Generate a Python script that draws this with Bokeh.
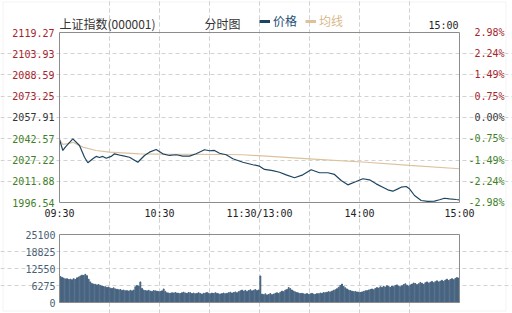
from bokeh.plotting import figure
from bokeh.models import (Range1d, FixedTicker, ColumnDataSource, LabelSet, Label,
                          Legend, LegendItem, Grid, BoxAnnotation)
from bokeh.core.properties import value
from bokeh.embed import file_html
from bokeh.resources import INLINE

# ---------------- data ----------------
title_text = "上证指数(000001)"
chart_kind = "分时图"
series_names = ["价格", "均线"]
end_time = "15:00"

prev_close = 2057.91
price_ticks = [2119.27, 2103.93, 2088.59, 2073.25, 2057.91, 2042.57, 2027.22, 2011.88, 1996.54]
pct_labels = ["2.98%", "2.24%", "1.49%", "0.75%", "0.00%", "-0.75%", "-1.49%", "-2.24%", "-2.98%"]

time_ticks = [0, 60, 120, 180, 240]
time_labels = ["09:30", "10:30", "11:30/13:00", "14:00", "15:00"]
grid_minutes = [30, 60, 90, 120, 150, 180, 210]

vol_ticks = [0, 6275, 12550, 18825, 25100]

price_min = [0, 2, 4, 8, 12, 15, 17, 20, 22, 24, 26, 28, 31, 33, 37, 42, 47, 51, 54, 58,
             62, 66, 70, 74, 78, 82, 87, 90, 93, 96, 100, 104, 110, 116, 120, 123, 128, 132, 136, 141,
             146, 151, 156, 161, 165, 169, 173, 178, 182, 186, 190, 194, 197, 200, 203, 205, 208, 210, 213, 217,
             221, 225, 228, 231, 234, 238, 240]
price_val = [2042.0, 2034.1, 2037.2, 2042.5, 2037.7, 2029.2, 2025.2, 2028.1, 2029.8, 2029.0,
             2029.8, 2028.5, 2029.8, 2031.7, 2030.5, 2029.2, 2025.6, 2030.5, 2032.9, 2034.8,
             2031.7, 2030.5, 2031.0, 2030.0, 2030.0, 2031.7, 2034.6, 2033.9, 2034.1, 2032.1,
             2031.0, 2028.1, 2025.6, 2023.8, 2022.8, 2020.4, 2019.6, 2018.4, 2016.5, 2014.4,
             2016.5, 2020.2, 2018.0, 2018.0, 2016.8, 2012.4, 2009.3, 2011.7, 2013.7, 2012.9,
             2010.0, 2007.6, 2005.7, 2004.7, 2006.4, 2007.6, 2008.1, 2006.4, 2001.6, 1998.0,
             1997.3, 1997.5, 1998.5, 1999.6, 1999.2, 1998.7, 1998.5]

avg_min = [0, 2, 5, 8, 14, 22, 30, 48, 62, 98, 110, 124, 150, 184, 210, 240]
avg_val = [2042.0, 2038.5, 2039.0, 2040.0, 2036.5, 2034.1, 2032.9, 2031.7, 2031.5, 2031.2,
           2031.0, 2030.0, 2028.1, 2025.6, 2023.3, 2020.9]

volumes = [
    9600, 9300, 9000, 8700, 8800, 8500, 8600, 8400, 8800, 8500,
    9100, 9400, 9800, 10100, 10000, 10400, 9900, 8600, 7600, 7000,
    6800, 6700, 6500, 6600, 6300, 6100, 5900, 5800, 5600, 5700,
    5300, 5200, 5400, 5000, 4900, 4700, 4800, 4500, 4600, 4300,
    4400, 4200, 4500, 4300, 4600, 5800, 6300, 6100, 7600, 5200,
    4600, 4400, 4300, 4500, 4200, 4100, 4400, 4300, 4200, 4000,
    4100, 4300, 5000, 4100, 3600, 3500, 3400, 3600, 3500, 3700,
    3500, 3400, 3300, 3600, 3800, 3500, 3400, 3700, 3600, 3300,
    3500, 3200, 3400, 3600, 3300, 3100, 3400, 3500, 3700, 3400,
    3200, 3500, 3300, 3600, 3400, 3200, 3100, 3300, 3500, 3200,
    3400, 3600, 3800, 3500, 3700, 3900, 3600, 4000, 4300, 4600,
    4200, 4500, 4100, 4400, 4700, 4300, 4500, 4800, 4400, 4600,
    9800, 3100, 2900, 3200, 2800, 3000, 3300, 2900, 3100, 3400,
    3600, 3300, 3800, 4200, 4000, 4600, 4800, 5500, 5100, 4600,
    4200, 3900, 3700, 3500, 3300, 3400, 3200, 3100, 3300, 3000,
    3200, 3400, 3100, 3000, 3300, 3200, 3500, 3400, 3700, 3600,
    3800, 4000, 3900, 4200, 4500, 4700, 5100, 5600, 6300, 6800,
    5900, 5400, 5000, 4600, 4400, 4200, 4000, 4100, 3900, 3800,
    3700, 3900, 4100, 4300, 4400, 4600, 4800, 5000, 4700, 5200,
    5500, 5300, 5800, 5600, 6000, 5700, 6200, 5900, 5600, 6100,
    5800, 6300, 6500, 6100, 5800, 6200, 6600, 6900, 6400, 6000,
    6500, 6800, 7200, 7000, 6600, 6900, 7400, 7100, 6700, 7300,
    7600, 7200, 7500, 7800, 7300, 7700, 8000, 7600, 7900, 8200,
    7800, 8300, 8600, 8100, 8500, 8800, 8400, 8900, 9200, 9000,
]

# ---------------- style / layout (pixels) ----------------
W, H = 512, 313
PX_L, PX_R = 59, 459          # plot frames, left / right edges
PY_T, PY_B = 32, 202          # price frame, top / bottom
VY_T, VY_B = 234, 302         # volume frame, top / bottom

PRICE_C = "#1d4561"
AVG_C = "#dcc29c"
RED = "#a8232a"
GREEN = "#3f7f27"
NEUTRAL = "#333333"
GRID_C = "#d2d2d2"
FRAME_C = "#8c8c8c"
BAR_C = "#46627f"
NUM_FONT = "DejaVu Sans Mono"
CJK_FONT = "Noto Sans CJK SC"

x_lo, x_hi = 0, 240
y_lo, y_hi = min(price_ticks), max(price_ticks)
v_lo, v_hi = min(vol_ticks), max(vol_ticks)

mpp = (x_hi - x_lo) / (PX_R - PX_L)          # minutes per pixel
ppp = (y_hi - y_lo) / (PY_B - PY_T)          # price per pixel
vpp = (v_hi - v_lo) / (VY_B - VY_T)          # volume per pixel

def xd(px):
    return x_lo + (px - PX_L) * mpp

def yd(py):
    return y_hi - (py - PY_T) * ppp

def vd(py):
    return v_hi - (py - VY_T) * vpp

p = figure(width=W, height=H, output_backend="svg", toolbar_location=None,
           x_range=Range1d(xd(0), xd(W)), y_range=Range1d(yd(H), yd(0)),
           x_axis_location=None, y_axis_location=None,
           min_border=0, min_border_left=0, min_border_right=0,
           min_border_top=0, min_border_bottom=0)
p.extra_y_ranges = {"vol": Range1d(vd(H), vd(0))}
p.outline_line_color = None
p.background_fill_color = "white"
p.border_fill_color = "white"
p.grid.visible = False

# outer light border of the widget
p.add_layout(BoxAnnotation(left=xd(2.5), right=xd(505.5), top=yd(1.5), bottom=yd(310.5),
                           fill_alpha=0, line_color="#d6d6d6", line_width=1))

# grids
dash = "4 3"
p.add_layout(Grid(dimension=0, ticker=FixedTicker(ticks=grid_minutes), bounds=(y_lo, y_hi),
                  grid_line_color=GRID_C, grid_line_dash=dash))
p.add_layout(Grid(dimension=1, ticker=FixedTicker(ticks=price_ticks[1:-1]), bounds=(x_lo, x_hi),
                  grid_line_color=GRID_C, grid_line_dash=dash))
p.add_layout(Grid(dimension=0, ticker=FixedTicker(ticks=grid_minutes), bounds=(v_lo, v_hi),
                  y_range_name="vol", grid_line_color=GRID_C, grid_line_dash=dash))
p.add_layout(Grid(dimension=1, ticker=FixedTicker(ticks=vol_ticks[1:-1]), bounds=(x_lo, x_hi),
                  y_range_name="vol", grid_line_color=GRID_C, grid_line_dash=dash))

# series
p.line(avg_min, avg_val, line_color=AVG_C, line_width=1.2)
p.line(price_min, price_val, line_color=PRICE_C, line_width=1.2)
vol_x = [i + 0.5 for i in range(len(volumes))]
p.vbar(x=vol_x, top=volumes, width=0.55, bottom=0, color=BAR_C, y_range_name="vol")

# frames
p.quad(left=[x_lo], right=[x_hi], bottom=[y_lo], top=[y_hi], fill_color=None, line_color=FRAME_C)
p.quad(left=[x_lo], right=[x_hi], bottom=[v_lo], top=[v_hi], fill_color=None, line_color=FRAME_C,
       y_range_name="vol")

# tick labels
def tick_color(v):
    if abs(v - prev_close) < 1e-6:
        return NEUTRAL
    return RED if v > prev_close else GREEN

lab_src = ColumnDataSource(data=dict(y=price_ticks,
                                     left=[f"{v:.2f}" for v in price_ticks],
                                     right=pct_labels,
                                     color=[tick_color(v) for v in price_ticks]))
common = dict(text_baseline="middle", text_font=value(NUM_FONT), text_font_size=value("10px"))
p.add_layout(LabelSet(x=xd(54), y="y", text="left", source=lab_src, text_color="color",
                      text_align="right", **common))
p.add_layout(LabelSet(x=xd(504), y="y", text="right", source=lab_src, text_color="color",
                      text_align="right", **common))

time_src = ColumnDataSource(data=dict(x=time_ticks, text=time_labels))
p.add_layout(LabelSet(x="x", y=yd(213), text="text", source=time_src, text_color="#222222",
                      text_align="center", **common))

vol_src = ColumnDataSource(data=dict(y=vol_ticks, text=[str(v) for v in vol_ticks]))
p.add_layout(LabelSet(x=xd(55), y="y", text="text", source=vol_src, text_color="#4a5f74",
                      text_align="right", y_range_name="vol", **common))

# header
p.add_layout(Label(x=xd(59), y=yd(23), text=title_text, text_align="left", text_baseline="middle",
                   text_font=CJK_FONT, text_font_size="12px", text_color="#333333"))
p.add_layout(Label(x=xd(204), y=yd(23), text=chart_kind, text_align="left", text_baseline="middle",
                   text_font=CJK_FONT, text_font_size="12px", text_color="#333333"))
p.add_layout(Label(x=xd(458), y=yd(24.5), text=end_time, text_align="right", text_baseline="middle",
                   text_font=NUM_FONT, text_font_size="10px", text_color="#222222"))

# legend (swatch renderers hold only an off-screen stub so that the key can be drawn)
stub_x = [xd(-60), xd(-50)]
stub_y = [y_lo, y_lo]
r_l1 = p.line(x=stub_x, y=stub_y, line_color=PRICE_C, line_width=3)
r_l2 = p.line(x=stub_x, y=stub_y, line_color=AVG_C, line_width=3)
for r, name, col, sx in [(r_l1, series_names[0], "#1f4f74", 259), (r_l2, series_names[1], "#d9b98a", 305)]:
    lg = Legend(items=[LegendItem(label=name, renderers=[r])], location=(sx, H - 29),
                orientation="horizontal", padding=0, margin=0, spacing=0,
                border_line_color=None, background_fill_alpha=0,
                glyph_width=11, glyph_height=12, label_height=12, label_standoff=3,
                label_text_font=CJK_FONT, label_text_font_size="12px",
                label_text_color=col)
    p.add_layout(lg)

open("out.html", "w").write(file_html(p, INLINE))
